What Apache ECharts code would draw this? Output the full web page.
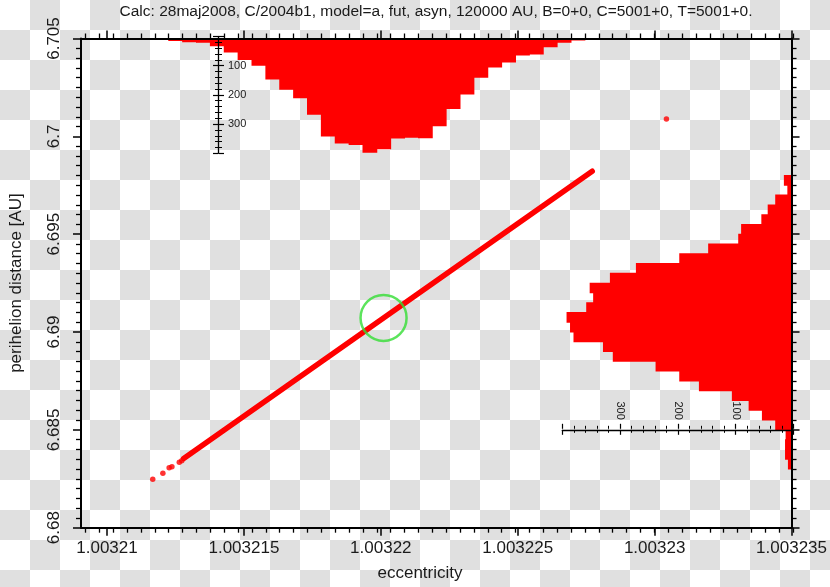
<!DOCTYPE html>
<html><head><meta charset="utf-8">
<script src="https://cdn.jsdelivr.net/npm/echarts@6/dist/echarts.min.js"></script>
<style>
html,body{margin:0;padding:0;}
body{width:830px;height:587px;overflow:hidden;background-color:#fff;
background-image:conic-gradient(#e0e0e0 25%, #fff 0 50%, #e0e0e0 0 75%, #fff 0);background-size:60px 60px;}
#c{width:830px;height:587px;}
</style></head><body><div id="c"></div><script>
// ---------------- data ----------------
const titleText = 'Calc: 28maj2008, C/2004b1, model=a, fut, asyn, 120000 AU, B=0+0, C=5001+0, T=5001+0.';
const xTickValues = [1.00321, 1.003215, 1.00322, 1.003225, 1.00323, 1.003235];
const yTickValues = [6.68, 6.685, 6.69, 6.695, 6.7, 6.705];
const countTickLabels = [100, 200, 300];

// isolated clones at the lower-left end of the track
const sparseClones = [[1.00321167,6.682472],[1.00321204,6.682778],[1.00321227,6.683064],
  [1.00321237,6.683115],[1.00321264,6.683340],[1.00321273,6.683422]];
// dense clone track (ends)
const denseTrack = [[1.0032128,6.683534],[1.00322772,6.698218]];
// single outlying clone
const outlierClone = [[1.00323043,6.700889]];
// nominal orbit (green circle)
const nominalOrbit = [[1.0032201,6.69072]];

// eccentricity histogram (bin lower edge, width 0.5e-6)
const eBinLow = [1.003212,1.0032125,1.003213,1.0032135,1.003214,1.0032145,1.003215,1.0032155,
  1.003216,1.0032165,1.003217,1.0032175,1.003218,1.0032185,1.003219,1.0032195,1.00322,1.0032205,
  1.003221,1.0032215,1.003222,1.0032225,1.003223,1.0032235,1.003224,1.0032245,1.003225,1.0032255,
  1.003226,1.0032265,1.003227,1.0032275];
const eCount = [3,7,11,13,25,46,72,92,139,174,203,260,334,358,363,390,378,341,338,340,299,240,190,
  133,98,81,57,53,28,13,5,2];
const eBinWidth = 0.5e-6;

// perihelion distance histogram (bin lower edge, width 0.0005)
const qBinLow = [6.683,6.6835,6.684,6.6845,6.685,6.6855,6.686,6.6865,6.687,6.6875,6.688,6.6885,
  6.689,6.6895,6.69,6.6905,6.691,6.6915,6.692,6.6925,6.693,6.6935,6.694,6.6945,6.695,6.6955,
  6.696,6.6965,6.697,6.6975];
const qCount = [8,13,13,12,30,53,76,105,162,196,237,311,328,379,385,391,357,345,351,316,271,196,
  146,94,89,54,43,30,9,15];
const qBinWidth = 0.0005;

// ---------------- layout/style ----------------
const XMIN = 1.00320905, XMAX = 1.003235, YMIN = 6.68, YMAX = 6.705;
const G = {left:73, top:38.5, width:720, height:489.2};
const FONT = 'Liberation Sans';
const BLACK = '#000', TXT = '#1a1a1a', RED = '#ff0000';

const xMinor = [];
for (let v = 1.0032095; v <= XMAX + 1e-12; v += 0.5e-6) xMinor.push(+v.toFixed(8));

const fmtX = v => String(parseFloat(Number(v).toFixed(7)));
const fmtY = v => String(parseFloat(Number(v).toFixed(4)));
const fmtC = v => (countTickLabels.indexOf(Math.round(v)) >= 0 ? String(Math.round(v)) : '');

const eData = eBinLow.map((b,i) => [b, b + eBinWidth, eCount[i]]);
const qData = qBinLow.map((b,i) => [qCount[i], b, b + qBinWidth]);

// filled bin rectangle, padded slightly so neighbouring bins merge without seams
function rectItem(p0, p1){
  const pad = 0.45;
  return {type:'rect', shape:{x:Math.min(p0[0],p1[0]) - pad, y:Math.min(p0[1],p1[1]) - pad,
    width:Math.abs(p1[0]-p0[0]) + 2*pad, height:Math.abs(p1[1]-p0[1]) + 2*pad},
    style:{fill:RED}};
}

const hiddenX = (gi, extra) => Object.assign({gridIndex:gi, type:'value', show:false, min:XMIN, max:XMAX}, extra||{});
const hiddenY = (gi, extra) => Object.assign({gridIndex:gi, type:'value', show:false, min:YMIN, max:YMAX}, extra||{});

const rulerAxis = (gi, pos, showLine, showLabel, rotate) => ({
  gridIndex:gi, type:'value', position:pos, inverse:true, min:0, max:400, interval:100, z:6,
  axisLine:{show:showLine, onZero:false, lineStyle:{color:BLACK, width:1.3}},
  axisTick:{show:true, length:5, lineStyle:{color:BLACK, width:1.2}},
  minorTick:{show:true, splitNumber:5, length:3, lineStyle:{color:BLACK, width:1}},
  splitLine:{show:false}, minorSplitLine:{show:false},
  axisLabel:{show:showLabel, formatter:fmtC, fontSize:11, fontFamily:FONT, color:TXT, margin:9, rotate:rotate||0}
});

const chart = echarts.init(document.getElementById('c'), null, {renderer:'canvas'});
chart.setOption({
  animation:false,
  backgroundColor:'transparent',
  title:[
    {text:titleText, left:436, top:4, textAlign:'center', padding:0,
      textStyle:{fontSize:15.5, fontWeight:'normal', fontFamily:FONT, color:TXT}},
    {text:'eccentricity', left:420, top:565, textAlign:'center', padding:0,
      textStyle:{fontSize:17, fontWeight:'normal', fontFamily:FONT, color:TXT}}
  ],
  grid:[
    Object.assign({}, G),  // 0 main
    Object.assign({}, G),  // 1 minor ticks
    Object.assign({}, G),  // 2 top histogram
    Object.assign({}, G),  // 3 right histogram
    {left:218, top:36.5, width:1, height:116.8},   // 4 top count ruler
    {left:562.3, top:428.8, width:231.2, height:1} // 5 right count ruler
  ],
  xAxis:[
    {gridIndex:0, type:'value', position:'bottom', min:XMIN, max:XMAX, z:5,
      axisLine:{show:true, onZero:false, lineStyle:{color:BLACK, width:2}},
      axisTick:{show:true, customValues:xTickValues, length:8, lineStyle:{color:BLACK, width:1.5}},
      axisLabel:{show:true, customValues:xTickValues, formatter:fmtX, fontSize:17, fontFamily:FONT, color:TXT, margin:12},
      splitLine:{show:false}},
    {gridIndex:0, type:'value', position:'top', min:XMIN, max:XMAX, z:5,
      axisLine:{show:true, onZero:false, lineStyle:{color:BLACK, width:2}},
      axisTick:{show:true, customValues:xTickValues, length:8, lineStyle:{color:BLACK, width:1.5}},
      axisLabel:{show:false}, splitLine:{show:false}},
    {gridIndex:1, type:'value', position:'bottom', min:XMIN, max:XMAX, z:5,
      axisLine:{show:false, onZero:false},
      axisTick:{show:true, customValues:xMinor, length:5, lineStyle:{color:BLACK, width:1.3}},
      axisLabel:{show:false}, splitLine:{show:false}},
    {gridIndex:1, type:'value', position:'top', min:XMIN, max:XMAX, z:5,
      axisLine:{show:false, onZero:false},
      axisTick:{show:true, customValues:xMinor, length:5, lineStyle:{color:BLACK, width:1.3}},
      axisLabel:{show:false}, splitLine:{show:false}},
    hiddenX(2),
    {gridIndex:3, type:'value', show:false, inverse:true, min:0, max:720/0.578},
    {gridIndex:4, type:'value', show:false, min:0, max:1},
    rulerAxis(5,'bottom',true,false),
    rulerAxis(5,'top',false,true,90)
  ],
  yAxis:[
    {gridIndex:0, type:'value', position:'left', min:YMIN, max:YMAX, interval:0.005, z:5,
      name:'perihelion distance [AU]', nameLocation:'middle', nameGap:56, nameRotate:90,
      nameTextStyle:{fontSize:17, fontFamily:FONT, color:TXT},
      axisLine:{show:true, onZero:false, lineStyle:{color:BLACK, width:2}},
      axisTick:{show:true, length:8, lineStyle:{color:BLACK, width:1.5}},
      minorTick:{show:true, splitNumber:10, length:5, lineStyle:{color:BLACK, width:1.3}},
      axisLabel:{show:true, rotate:90, formatter:fmtY, fontSize:17, fontFamily:FONT, color:TXT, margin:18},
      splitLine:{show:false}, minorSplitLine:{show:false}},
    {gridIndex:0, type:'value', position:'right', min:YMIN, max:YMAX, interval:0.005, z:5,
      axisLine:{show:true, onZero:false, lineStyle:{color:BLACK, width:2}},
      axisTick:{show:true, length:8, lineStyle:{color:BLACK, width:1.5}},
      minorTick:{show:true, splitNumber:10, length:5, lineStyle:{color:BLACK, width:1.3}},
      axisLabel:{show:false}, splitLine:{show:false}, minorSplitLine:{show:false}},
    hiddenY(1),
    {gridIndex:2, type:'value', show:false, inverse:true, min:0, max:489.2/0.292},
    hiddenY(3),
    rulerAxis(4,'left',true,false),
    rulerAxis(4,'right',false,true),
    {gridIndex:5, type:'value', show:false, min:0, max:1}
  ],
  series:[
    {type:'custom', name:'e-hist', xAxisIndex:4, yAxisIndex:3, z:1, silent:true, clip:true,
      data:eData, encode:{x:[0,1], y:2},
      renderItem:(params, api) => rectItem(api.coord([api.value(0), 0]), api.coord([api.value(1), api.value(2)]))},
    {type:'custom', name:'q-hist', xAxisIndex:5, yAxisIndex:4, z:1, silent:true, clip:true,
      data:qData, encode:{x:0, y:[1,2]},
      renderItem:(params, api) => rectItem(api.coord([0, api.value(1)]), api.coord([api.value(0), api.value(2)]))},
    {type:'line', name:'clones', xAxisIndex:0, yAxisIndex:0, z:3, silent:true,
      data:denseTrack, showSymbol:false, symbol:'none',
      lineStyle:{color:RED, width:5.5, cap:'round'}},
    {type:'scatter', name:'sparse', xAxisIndex:0, yAxisIndex:0, z:3, silent:true,
      data:sparseClones.concat(outlierClone), symbolSize:5.5, itemStyle:{color:RED}},
    {type:'scatter', name:'nominal', xAxisIndex:0, yAxisIndex:0, z:4, silent:true,
      data:nominalOrbit, symbol:'circle', symbolSize:46,
      itemStyle:{color:'rgba(0,0,0,0)', borderColor:'#33dd33', borderWidth:2.5}}
  ]
});
</script></body></html>
